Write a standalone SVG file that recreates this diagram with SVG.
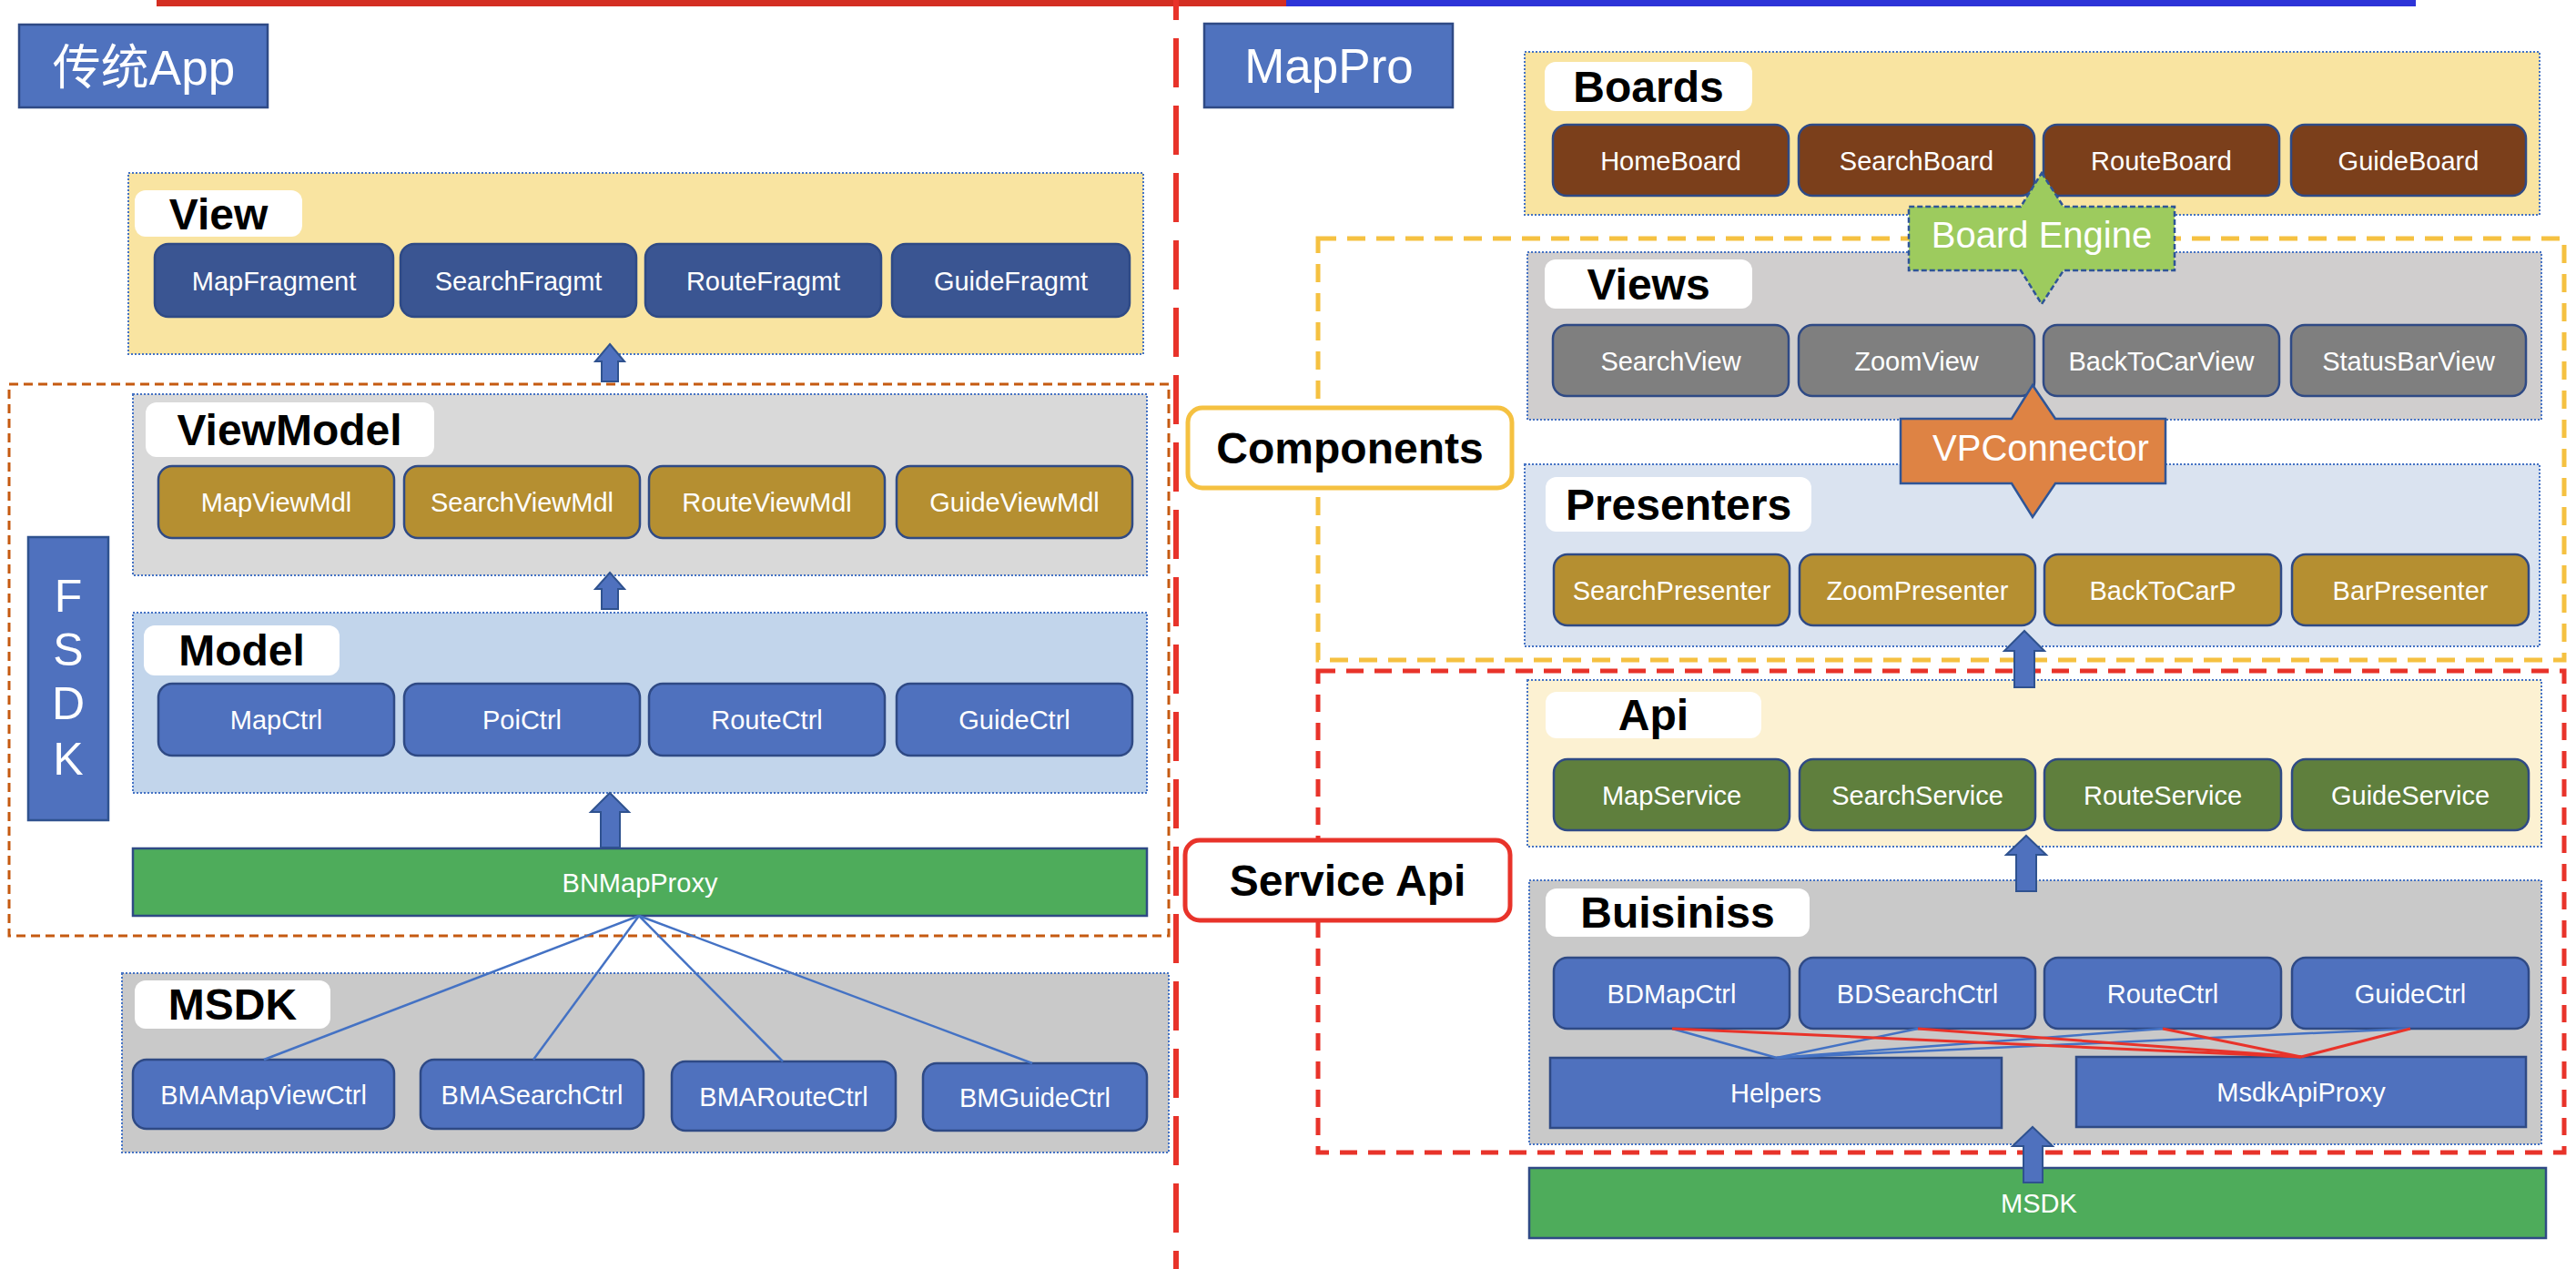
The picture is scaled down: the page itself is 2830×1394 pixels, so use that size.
<svg xmlns="http://www.w3.org/2000/svg" width="2830" height="1394" viewBox="0 0 2830 1394">
<style>
.bg{fill:#ffffff}
.cont{stroke:#4472C4;stroke-width:2;stroke-dasharray:2 2}
.yel{fill:#F9E4A1}.gry{fill:#D9D9D9}.lblue{fill:#C2D5EB}.msdkc{fill:#C9C9C9}.vgry{fill:#D0CECE}.pblue{fill:#DAE3F0}.apiy{fill:#FCF1D2}
.lab{fill:#ffffff}
.labt{font-family:"Liberation Sans",Arial,sans-serif;font-weight:bold;font-size:48px;fill:#000;text-anchor:middle}
.node{stroke:#2F4A85;stroke-width:2.5}
.nt{font-family:"Liberation Sans",Arial,sans-serif;font-size:29px;fill:#fff;text-anchor:middle}
.dblue{fill:#3A5592}.gold{fill:#B58F31}.blue{fill:#4F71BE}.brown{fill:#7B3F1B}.vgrey{fill:#7F7F7F}.sgreen{fill:#5F7F3D}.bgreen{fill:#4EAC5B}
.arrow{fill:#4F71BE;stroke:#2F528F;stroke-width:2}
.title{fill:#4F72BE;stroke:#2F4A85;stroke-width:2.5}
.titlet{font-family:"Liberation Sans","Noto Sans CJK SC",Arial,sans-serif;font-size:53px;fill:#fff;text-anchor:middle}
.bl{stroke:#4472C4;stroke-width:2.5;fill:none}
.rl{stroke:#E8332A;stroke-width:3;fill:none}
</style>
<rect class="bg" x="0" y="0" width="2830" height="1394"/>

<!-- top lines and divider -->
<g id="dividers">
<rect x="172" y="0" width="1241" height="7" fill="#D42E22"/>
<rect x="1413" y="0" width="1241" height="7" fill="#2D34D8"/>
<line x1="1292" y1="-32" x2="1292" y2="1394" stroke="#E8332A" stroke-width="6" stroke-dasharray="54 20"/>
</g>

<!-- titles -->
<g id="title-legacy"><rect class="title" x="21" y="27" width="273" height="91"/><text class="titlet" x="158" y="93">传统App</text></g>
<g id="title-mappro"><rect class="title" x="1323" y="26" width="273" height="92"/><text class="titlet" x="1460" y="91">MapPro</text></g>

<!-- LEFT SIDE -->
<g id="fsdk-group">
<rect x="10" y="422" width="1274" height="606" fill="none" stroke="#C55A11" stroke-width="3" stroke-dasharray="10 6"/>
</g>
<g id="fsdk-bar">
<rect x="31" y="590" width="88" height="311" fill="#4F71BE" stroke="#2F528F" stroke-width="2.5"/>
<text class="nt" style="font-size:50px" x="75" y="672">F</text>
<text class="nt" style="font-size:50px" x="75" y="731">S</text>
<text class="nt" style="font-size:50px" x="75" y="790">D</text>
<text class="nt" style="font-size:50px" x="75" y="851">K</text>
</g>

<g id="view-layer">
<rect class="cont yel" x="141" y="190" width="1115" height="199"/>
<rect class="lab" x="148" y="209" width="184" height="51" rx="12"/>
<text class="labt" x="240" y="252">View</text>
</g>
<g id="MapFragment"><rect class="node dblue" x="170" y="268" width="262" height="80" rx="15"/><text class="nt" x="301" y="319">MapFragment</text></g>
<g id="SearchFragmt"><rect class="node dblue" x="440" y="268" width="259" height="80" rx="15"/><text class="nt" x="569.5" y="319">SearchFragmt</text></g>
<g id="RouteFragmt"><rect class="node dblue" x="709" y="268" width="259" height="80" rx="15"/><text class="nt" x="838.5" y="319">RouteFragmt</text></g>
<g id="GuideFragmt"><rect class="node dblue" x="980" y="268" width="261" height="80" rx="15"/><text class="nt" x="1110.5" y="319">GuideFragmt</text></g>

<g id="viewmodel-layer">
<rect class="cont gry" x="146" y="433" width="1114" height="199"/>
<rect class="lab" x="160" y="442" width="317" height="60" rx="12"/>
<text class="labt" x="318" y="489">ViewModel</text>
</g>
<g id="MapViewMdl"><rect class="node gold" x="174" y="512" width="259" height="79" rx="15"/><text class="nt" x="303.5" y="562">MapViewMdl</text></g>
<g id="SearchViewMdl"><rect class="node gold" x="444" y="512" width="259" height="79" rx="15"/><text class="nt" x="573.5" y="562">SearchViewMdl</text></g>
<g id="RouteViewMdl"><rect class="node gold" x="713" y="512" width="259" height="79" rx="15"/><text class="nt" x="842.5" y="562">RouteViewMdl</text></g>
<g id="GuideViewMdl"><rect class="node gold" x="985" y="512" width="259" height="79" rx="15"/><text class="nt" x="1114.5" y="562">GuideViewMdl</text></g>

<g id="model-layer">
<rect class="cont lblue" x="146" y="673" width="1114" height="198"/>
<rect class="lab" x="158" y="687" width="215" height="55" rx="12"/>
<text class="labt" x="265.5" y="731">Model</text>
</g>
<g id="MapCtrl"><rect class="node blue" x="174" y="751" width="259" height="79" rx="15"/><text class="nt" x="303.5" y="801">MapCtrl</text></g>
<g id="PoiCtrl"><rect class="node blue" x="444" y="751" width="259" height="79" rx="15"/><text class="nt" x="573.5" y="801">PoiCtrl</text></g>
<g id="RouteCtrl-left"><rect class="node blue" x="713" y="751" width="259" height="79" rx="15"/><text class="nt" x="842.5" y="801">RouteCtrl</text></g>
<g id="GuideCtrl-left"><rect class="node blue" x="985" y="751" width="259" height="79" rx="15"/><text class="nt" x="1114.5" y="801">GuideCtrl</text></g>

<g id="BNMapProxy"><rect class="node bgreen" x="146" y="932" width="1114" height="74"/><text class="nt" x="703" y="980">BNMapProxy</text></g>

<g id="msdk-layer">
<rect class="cont msdkc" x="134" y="1069" width="1150" height="197"/>
<rect class="lab" x="148" y="1077" width="215" height="53" rx="12"/>
<text class="labt" x="255.5" y="1120">MSDK</text>
</g>
<g id="BMAMapViewCtrl"><rect class="node blue" x="146" y="1164" width="287" height="76" rx="15"/><text class="nt" x="289.5" y="1213">BMAMapViewCtrl</text></g>
<g id="BMASearchCtrl"><rect class="node blue" x="462" y="1164" width="245" height="76" rx="15"/><text class="nt" x="584.5" y="1213">BMASearchCtrl</text></g>
<g id="BMARouteCtrl"><rect class="node blue" x="738" y="1166" width="246" height="76" rx="15"/><text class="nt" x="861" y="1215">BMARouteCtrl</text></g>
<g id="BMGuideCtrl"><rect class="node blue" x="1014" y="1168" width="246" height="74" rx="15"/><text class="nt" x="1137" y="1216">BMGuideCtrl</text></g>

<!-- RIGHT SIDE -->
<g id="boards-layer">
<rect class="cont yel" x="1675" y="57" width="1115" height="179"/>
<rect class="lab" x="1697" y="68" width="228" height="54" rx="12"/>
<text class="labt" x="1811" y="112">Boards</text>
</g>
<g id="HomeBoard"><rect class="node brown" x="1706" y="137" width="259" height="78" rx="15"/><text class="nt" x="1835.5" y="187">HomeBoard</text></g>
<g id="SearchBoard"><rect class="node brown" x="1976" y="137" width="259" height="78" rx="15"/><text class="nt" x="2105.5" y="187">SearchBoard</text></g>
<g id="RouteBoard"><rect class="node brown" x="2245" y="137" width="259" height="78" rx="15"/><text class="nt" x="2374.5" y="187">RouteBoard</text></g>
<g id="GuideBoard"><rect class="node brown" x="2517" y="137" width="258" height="78" rx="15"/><text class="nt" x="2646" y="187">GuideBoard</text></g>

<g id="components-group">
<rect x="1448" y="262" width="1369" height="463" fill="none" stroke="#F5C141" stroke-width="5" stroke-dasharray="20 12"/>
</g>

<g id="views-layer">
<rect class="cont vgry" x="1678" y="277" width="1114" height="184"/>
<rect class="lab" x="1697" y="285" width="228" height="54" rx="12"/>
<text class="labt" x="1811" y="329">Views</text>
</g>
<g id="SearchView"><rect class="node vgrey" x="1706" y="357" width="259" height="78" rx="15"/><text class="nt" x="1835.5" y="407">SearchView</text></g>
<g id="ZoomView"><rect class="node vgrey" x="1976" y="357" width="259" height="78" rx="15"/><text class="nt" x="2105.5" y="407">ZoomView</text></g>
<g id="BackToCarView"><rect class="node vgrey" x="2245" y="357" width="259" height="78" rx="15"/><text class="nt" x="2374.5" y="407">BackToCarView</text></g>
<g id="StatusBarView"><rect class="node vgrey" x="2517" y="357" width="258" height="78" rx="15"/><text class="nt" x="2646" y="407">StatusBarView</text></g>

<g id="presenters-layer">
<rect class="cont pblue" x="1675" y="510" width="1115" height="200"/>
<rect class="lab" x="1698" y="524" width="292" height="60" rx="12"/>
<text class="labt" x="1844" y="571">Presenters</text>
</g>
<g id="SearchPresenter"><rect class="node gold" x="1707" y="609" width="259" height="78" rx="15"/><text class="nt" x="1836.5" y="659">SearchPresenter</text></g>
<g id="ZoomPresenter"><rect class="node gold" x="1977" y="609" width="259" height="78" rx="15"/><text class="nt" x="2106.5" y="659">ZoomPresenter</text></g>
<g id="BackToCarP"><rect class="node gold" x="2246" y="609" width="260" height="78" rx="15"/><text class="nt" x="2376" y="659">BackToCarP</text></g>
<g id="BarPresenter"><rect class="node gold" x="2518" y="609" width="260" height="78" rx="15"/><text class="nt" x="2648" y="659">BarPresenter</text></g>

<g id="serviceapi-group">
<rect x="1448" y="737" width="1369" height="529" fill="none" stroke="#E8332A" stroke-width="5" stroke-dasharray="19 12"/>
</g>

<g id="api-layer">
<rect class="cont apiy" x="1678" y="747" width="1114" height="183"/>
<rect class="lab" x="1698" y="760" width="237" height="51" rx="12"/>
<text class="labt" x="1816.5" y="802">Api</text>
</g>
<g id="MapService"><rect class="node sgreen" x="1707" y="834" width="259" height="78" rx="15"/><text class="nt" x="1836.5" y="884">MapService</text></g>
<g id="SearchService"><rect class="node sgreen" x="1977" y="834" width="259" height="78" rx="15"/><text class="nt" x="2106.5" y="884">SearchService</text></g>
<g id="RouteService"><rect class="node sgreen" x="2246" y="834" width="260" height="78" rx="15"/><text class="nt" x="2376" y="884">RouteService</text></g>
<g id="GuideService"><rect class="node sgreen" x="2518" y="834" width="260" height="78" rx="15"/><text class="nt" x="2648" y="884">GuideService</text></g>

<g id="buisiniss-layer">
<rect class="cont msdkc" x="1680" y="967" width="1112" height="290"/>
<rect class="lab" x="1698" y="976" width="290" height="53" rx="12"/>
<text class="labt" x="1843" y="1019">Buisiniss</text>
</g>
<g id="BDMapCtrl"><rect class="node blue" x="1707" y="1052" width="259" height="78" rx="15"/><text class="nt" x="1836.5" y="1102">BDMapCtrl</text></g>
<g id="BDSearchCtrl"><rect class="node blue" x="1977" y="1052" width="259" height="78" rx="15"/><text class="nt" x="2106.5" y="1102">BDSearchCtrl</text></g>
<g id="RouteCtrl-right"><rect class="node blue" x="2246" y="1052" width="260" height="78" rx="15"/><text class="nt" x="2376" y="1102">RouteCtrl</text></g>
<g id="GuideCtrl-right"><rect class="node blue" x="2518" y="1052" width="260" height="78" rx="15"/><text class="nt" x="2648" y="1102">GuideCtrl</text></g>
<g id="Helpers"><rect class="node blue" x="1703" y="1162" width="496" height="77"/><text class="nt" x="1951" y="1211">Helpers</text></g>
<g id="MsdkApiProxy"><rect class="node blue" x="2281" y="1161" width="494" height="77"/><text class="nt" x="2528" y="1210">MsdkApiProxy</text></g>

<g id="MSDK-right"><rect class="node bgreen" x="1680" y="1283" width="1117" height="77"/><text class="nt" x="2240" y="1332">MSDK</text></g>

<!-- side labels -->
<g id="Components-label"><rect x="1305" y="448" width="356" height="88" rx="16" fill="#fff" stroke="#F5C141" stroke-width="5"/><text class="labt" x="1483" y="509">Components</text></g>
<g id="ServiceApi-label"><rect x="1302" y="923" width="357" height="88" rx="16" fill="#fff" stroke="#E8332A" stroke-width="5"/><text class="labt" x="1480.5" y="984">Service Api</text></g>

<!-- connectors -->
<g id="connectors">
<!-- left fan lines -->
<line class="bl" x1="702" y1="1006" x2="290" y2="1164"/>
<line class="bl" x1="702" y1="1006" x2="586" y2="1164"/>
<line class="bl" x1="702" y1="1006" x2="860" y2="1166"/>
<line class="bl" x1="702" y1="1006" x2="1134" y2="1168"/>
<!-- right helpers / proxy lines -->
<line class="bl" x1="1952" y1="1162" x2="1837" y2="1130"/>
<line class="bl" x1="1952" y1="1162" x2="2107" y2="1130"/>
<line class="bl" x1="1952" y1="1162" x2="2376" y2="1130"/>
<line class="bl" x1="1952" y1="1162" x2="2648" y2="1130"/>
<line class="rl" x1="2528" y1="1161" x2="1837" y2="1130"/>
<line class="rl" x1="2528" y1="1161" x2="2107" y2="1130"/>
<line class="rl" x1="2528" y1="1161" x2="2376" y2="1130"/>
<line class="rl" x1="2528" y1="1161" x2="2648" y2="1130"/>
<!-- block arrows -->
<polygon class="arrow" points="670,378 686,397 679,397 679,419 661,419 661,397 654,397"/>
<polygon class="arrow" points="670,629 686,647 679,647 679,669 661,669 661,647 654,647"/>
<polygon class="arrow" points="670,871 691,892 681,892 681,931 660,931 660,892 649,892"/>
<polygon class="arrow" points="2224,693 2246,715 2235,715 2235,755 2213,755 2213,715 2202,715"/>
<polygon class="arrow" points="2226,918 2248,939 2237,939 2237,979 2215,979 2215,939 2204,939"/>
<polygon class="arrow" points="2233,1238 2255,1259 2244,1259 2244,1299 2223,1299 2223,1259 2211,1259"/>
<!-- Board Engine double arrow -->
<g id="BoardEngine">
<polygon points="2243,190 2267,227 2389,227 2389,297 2267,297 2243,334 2220,297 2097,297 2097,227 2220,227" fill="#9DCB5E" stroke="#2F5597" stroke-width="2.5" stroke-dasharray="6 3"/>
<text class="nt" style="font-size:40px" x="2243" y="272">Board Engine</text>
</g>
<g id="VPConnector">
<polygon points="2233,423 2258,460 2379,460 2379,531 2258,531 2233,568 2210,531 2088,531 2088,460 2210,460" fill="#DE8344" stroke="#2F5597" stroke-width="2.5"/>
<text class="nt" style="font-size:40px" x="2242" y="506">VPConnector</text>
</g>
</g>
</svg>
